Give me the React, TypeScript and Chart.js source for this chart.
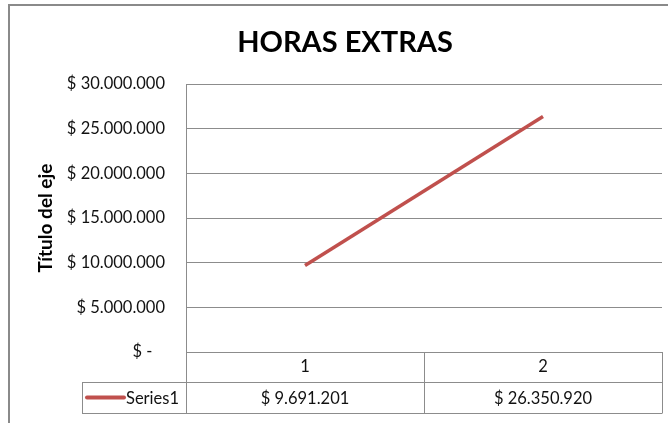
import React, { useEffect, useRef } from "react";
import { Chart, registerables } from "chart.js";

Chart.register(...registerables);

const categories = ["1", "2"];
const seriesName = "Series1";
const seriesValues = [9691201, 26350920];
const titleText = "HORAS EXTRAS";
const yAxisTitle = "Título del eje";
const yMin = 0;
const yMax = 30000000;
const yStep = 5000000;

const FONT = "Lato, 'Liberation Sans', sans-serif";
const GRID = "#8c8c8c";
const LINE = "#C0504D";
const TEXT = "#111111";
const FS = 16.5;

const fmt = (v: number) =>
  Math.round(v).toString().replace(/\B(?=(\d{3})+(?!\d))/g, ".");
const money = (v: number) => (v === 0 ? "$ -   " : "$ " + fmt(v));

const tablePlugin = {
  id: "tablePlugin",
  afterDraw(chart: any) {
    const ctx = chart.ctx;
    const area = chart.chartArea;
    const x = chart.scales.x;
    const rowTop = area.bottom;
    const rowMid = rowTop + 30;
    const rowBottom = rowTop + 61;
    const tableLeft = 82;
    ctx.save();
    // outer chart border
    ctx.strokeStyle = "#8a8a8a";
    ctx.lineWidth = 2;
    ctx.beginPath();
    ctx.moveTo(9, 423);
    ctx.lineTo(9, 5);
    ctx.lineTo(668, 5);
    ctx.stroke();
    // title
    ctx.fillStyle = "#000";
    ctx.font = "bold 29px " + FONT;
    ctx.textAlign = "center";
    ctx.textBaseline = "middle";
    ctx.fillText(titleText, 345, 43);
    // table lines
    ctx.strokeStyle = GRID;
    ctx.lineWidth = 1;
    ctx.beginPath();
    const a = (v: number) => Math.round(v) + 0.5;
    ctx.moveTo(tableLeft, a(rowMid));
    ctx.lineTo(area.right, a(rowMid));
    ctx.moveTo(tableLeft, a(rowBottom));
    ctx.lineTo(area.right, a(rowBottom));
    ctx.moveTo(a(tableLeft), a(rowMid));
    ctx.lineTo(a(tableLeft), a(rowBottom));
    ctx.moveTo(a(area.left), rowTop);
    ctx.lineTo(a(area.left), a(rowBottom));
    ctx.moveTo(a(area.right), rowTop);
    ctx.lineTo(a(area.right), a(rowBottom));
    const mid = (x.getPixelForValue(0) + x.getPixelForValue(1)) / 2;
    ctx.moveTo(a(mid), rowTop);
    ctx.lineTo(a(mid), a(rowBottom));
    ctx.stroke();
    // legend key
    const cy = (rowMid + rowBottom) / 2;
    ctx.strokeStyle = LINE;
    ctx.lineWidth = 4;
    ctx.lineCap = "round";
    ctx.beginPath();
    ctx.moveTo(87, cy);
    ctx.lineTo(124, cy);
    ctx.stroke();
    ctx.fillStyle = TEXT;
    ctx.font = FS + "px " + FONT;
    ctx.textAlign = "left";
    ctx.fillText(seriesName, 126, cy + 1);
    ctx.textAlign = "center";
    seriesValues.forEach((v, i) => {
      ctx.fillText(money(v), x.getPixelForValue(i), cy + 1);
    });
    ctx.restore();
  },
};

export default function App() {
  const ref = useRef<HTMLCanvasElement>(null);
  useEffect(() => {
    if (!ref.current) return;
    const chart = new Chart(ref.current, {
      type: "line",
      data: {
        labels: categories,
        datasets: [
          {
            label: seriesName,
            data: seriesValues,
            borderColor: LINE,
            backgroundColor: LINE,
            borderWidth: 3.5,
            pointRadius: 0,
            tension: 0,
          },
        ],
      },
      options: {
        animation: false,
        responsive: false,
        devicePixelRatio: 1,
        layout: { padding: { left: 0, top: 84, right: 6, bottom: 10 } },
        plugins: {
          legend: { display: false },
          title: { display: false },
          tooltip: { enabled: false },
        },
        scales: {
          x: {
            type: "category",
            offset: true,
            grid: { display: false, drawTicks: false },
            border: { display: true, color: GRID, width: 1 },
            ticks: {
              padding: 5,
              color: TEXT,
              font: { family: FONT, size: FS },
            },
            afterFit: (s: any) => {
              s.height = 61;
            },
          },
          y: {
            min: yMin,
            max: yMax,
            ticks: {
              stepSize: yStep,
              padding: 21,
              color: TEXT,
              font: { family: FONT, size: FS },
              callback: (v: any) => money(Number(v)),
            },
            grid: { color: GRID, lineWidth: 1, drawTicks: false },
            border: { display: true, color: GRID, width: 1 },
            title: {
              display: true,
              text: yAxisTitle,
              color: "#000",
              font: { family: FONT, size: 19, weight: "bold" },
              padding: { top: 34.6, bottom: 0 },
            },
            afterFit: (s: any) => {
              s.width = 186;
            },
          },
        },
      },
      plugins: [tablePlugin],
    });
    return () => chart.destroy();
  }, []);
  return (
    <div style={{ position: "absolute", left: 0, top: 0, width: 668, height: 423 }}>
      <canvas ref={ref} width={668} height={423} style={{ display: "block" }} />
    </div>
  );
}
